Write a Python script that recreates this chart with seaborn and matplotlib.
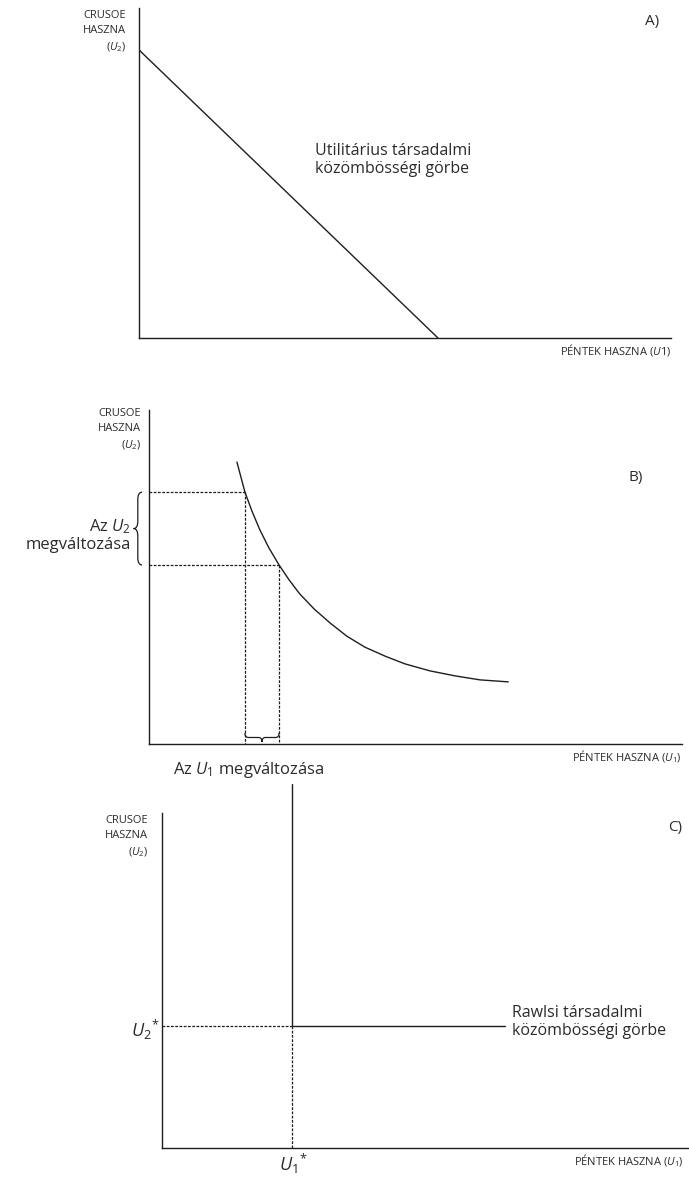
import numpy as np
import pandas as pd
import matplotlib
matplotlib.use("Agg")
import matplotlib.pyplot as plt
import seaborn as sns
from matplotlib.path import Path
from matplotlib.patches import PathPatch

# Panel A - utilitarian social indifference curve (straight line)
util_u1 = [0.0, 5.62]
util_u2 = [8.73, 0.0]

# Panel B - convex indifference curve
curve_u1 = [1.65, 1.73, 1.80, 1.93, 2.08, 2.25, 2.44, 2.63, 2.83, 3.10,
            3.40, 3.71, 4.05, 4.43, 4.80, 5.27, 5.74, 6.21, 6.74]
curve_u2 = [8.44, 7.96, 7.54, 6.98, 6.41, 5.87, 5.36, 4.91, 4.49, 4.04,
            3.62, 3.23, 2.90, 2.63, 2.40, 2.19, 2.04, 1.92, 1.86]
change_u1 = [1.80, 2.44]
change_u2 = [7.54, 5.36]

# Panel C - Rawlsian (L-shaped) curve
rawls_u1 = [2.42, 2.42, 6.38]
rawls_u2 = [10.0, 3.35, 3.35]
u1_star = 2.42
u2_star = 3.35

W, H = 689, 1179
INK = "#1e1e1e"
TXT = "#2b2b2b"

sns.set_theme(style="white")
plt.rcParams['font.family'] = ['Open Sans', 'DejaVu Sans']
plt.rcParams['mathtext.fontset'] = 'custom'
plt.rcParams['mathtext.rm'] = 'Open Sans'
plt.rcParams['mathtext.it'] = 'Open Sans:italic'

fig = plt.figure(figsize=(W / 100, H / 100), dpi=100)


def px_axes(x0, y0, x1, y1):
    # origin (x0, y0) and far corner (x1, y1) in picture pixels
    return fig.add_axes([x0 / W, 1 - y0 / H, (x1 - x0) / W, (y0 - y1) / H])


def ftext(px, py, s, **kw):
    kw.setdefault("color", TXT)
    fig.text(px / W, 1 - py / H, s, **kw)


def style_axes(ax):
    ax.set_xlim(0, 10)
    ax.set_ylim(0, 10)
    ax.set_xticks([])
    ax.set_yticks([])
    sns.despine(ax=ax)
    for side in ["left", "bottom"]:
        ax.spines[side].set_color(INK)
        ax.spines[side].set_linewidth(1.0)


def brace(ax, start, end, pos, width, vertical):
    pts = [(0, 0), (0, 0.5), (0.1, 0.5), (0.4, 0.5), (0.5, 0.5), (0.5, 1),
           (0.5, 0.5), (0.6, 0.5), (0.9, 0.5), (1, 0.5), (1, 0)]
    codes = [Path.MOVETO, Path.CURVE3, Path.CURVE3, Path.LINETO, Path.CURVE3,
             Path.CURVE3, Path.CURVE3, Path.CURVE3, Path.LINETO, Path.CURVE3, Path.CURVE3]
    verts = []
    for a, b in pts:
        along = start + a * (end - start)
        across = pos + b * width
        verts.append((across, along) if vertical else (along, across))
    ax.add_patch(PathPatch(Path(verts, codes), fill=False, lw=0.9,
                           ec=INK, clip_on=False))


dash = dict(color=INK, lw=0.9, ls=(0, (2.2, 1.2)), clip_on=False)
ylab = "CRUSOE\nHASZNA\n($U_2$)"

# ---- A) ----
ax_a = px_axes(139, 338, 671, 8)
style_axes(ax_a)
sns.lineplot(x=util_u1, y=util_u2, ax=ax_a, color=INK, lw=1.0,
             sort=False, estimator=None)
ftext(126, 10, ylab, ha="right", va="top", fontsize=8, linespacing=1.45)
ftext(645, 22, "A)", ha="left", va="center", fontsize=11)
ftext(315, 143, "Utilitárius társadalmi\nközömbösségi görbe",
      ha="left", va="top", fontsize=11.5, linespacing=1.2)
ftext(671, 342, r"PÉNTEK HASZNA ($\mathit{U1}$)", ha="right", va="top", fontsize=8)

# ---- B) ----
ax_b = px_axes(149, 744, 682, 410)
style_axes(ax_b)
sns.lineplot(x=curve_u1, y=curve_u2, ax=ax_b, color=INK, lw=1.0,
             sort=False, estimator=None)
for u1, u2 in zip(change_u1, change_u2):
    ax_b.plot([0, u1], [u2, u2], **dash)
    ax_b.plot([u1, u1], [u2, 0], **dash)
brace(ax_b, change_u2[1], change_u2[0], -0.13, -0.16, vertical=True)
brace(ax_b, change_u1[0], change_u1[1], 0.33, -0.27, vertical=False)
ftext(141, 408, ylab, ha="right", va="top", fontsize=8, linespacing=1.45)
ftext(628, 478, "B)", ha="left", va="center", fontsize=11)
ftext(131, 535, "Az $U_2$\nmegváltozása", ha="right", va="center",
      fontsize=12, linespacing=1.1)
ftext(682, 748, r"PÉNTEK HASZNA ($U_1$)", ha="right", va="top", fontsize=8)
ftext(173, 770, "Az $U_1$ megváltozása", ha="left", va="center", fontsize=12)

# ---- C) ----
ax_c = px_axes(162, 1148, 700, 784)
style_axes(ax_c)
ax_c.spines["left"].set_bounds(0, 9.2)
sns.lineplot(x=rawls_u1, y=rawls_u2, ax=ax_c, color=INK, lw=1.0,
             sort=False, estimator=None)
ax_c.plot([0, u1_star], [u2_star, u2_star], **dash)
ax_c.plot([u1_star, u1_star], [u2_star, 0], **dash)
ftext(148, 815, ylab, ha="right", va="top", fontsize=8, linespacing=1.45)
ftext(668, 828, "C)", ha="left", va="center", fontsize=11)
ftext(159, 1030, r"$U_2{}^{*}$", ha="right", va="center", fontsize=13)
ftext(293, 1152, r"$U_1{}^{*}$", ha="center", va="top", fontsize=13)
ftext(512, 1022, "Rawlsi társadalmi\nközömbösségi görbe",
      ha="left", va="center", fontsize=11.5, linespacing=1.2)
ftext(574, 1152, r"PÉNTEK HASZNA ($U_1$)", ha="left", va="top", fontsize=8)

fig.savefig("out.png", dpi=100)
